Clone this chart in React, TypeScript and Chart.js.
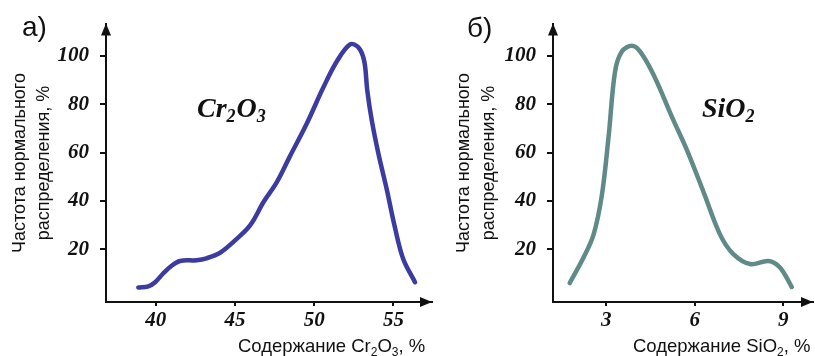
import React, { useEffect, useRef } from "react";
import { Chart, registerables } from "chart.js";

Chart.register(...registerables);

// ---- Data ----
const crX = [38.9, 39.53, 39.96, 40.48, 41.0, 41.53, 42.59, 43.2, 44.06, 44.9, 45.95, 46.8, 47.63, 48.47, 49.53, 50.57, 51.42, 52.26, 52.78, 53.15, 53.35, 53.63, 54.04, 54.57, 55.1, 55.62, 56.36];
const crY = [4.1, 4.6, 6.3, 10, 13.1, 15.1, 15.4, 16.2, 18.5, 23, 29.8, 39.5, 47.6, 58.5, 72, 86.9, 97.7, 104.8, 103.6, 98, 85.5, 73.3, 59.8, 44.9, 28.7, 15.8, 6.3];

const siX = [1.76, 2.23, 2.57, 2.85, 3.08, 3.3, 3.53, 3.87, 4.15, 4.6, 5.28, 5.73, 6.3, 6.86, 7.31, 7.88, 8.5, 8.89, 9.29];
const siY = [5.9, 16.5, 26, 42.2, 66.6, 93.6, 101.8, 104.2, 101.8, 92.3, 73.3, 61.2, 43.6, 26, 17.9, 13.8, 15.1, 12.4, 4.3];

const crTicks = [40, 45, 50, 55];
const siTicks = [3, 6, 9];
const yTicks = [20, 40, 60, 80, 100];

const yTitleLines = ["Частота нормального", "распределения, %"];

type Seg = { t: string; sub?: boolean };

const crXTitle: Seg[] = [{ t: "Содержание Cr" }, { t: "2", sub: true }, { t: "O" }, { t: "3", sub: true }, { t: ", %" }];
const siXTitle: Seg[] = [{ t: "Содержание SiO" }, { t: "2", sub: true }, { t: ", %" }];
const crFormula: Seg[] = [{ t: "Cr" }, { t: "2", sub: true }, { t: "O" }, { t: "3", sub: true }];
const siFormula: Seg[] = [{ t: "SiO" }, { t: "2", sub: true }];

// ---- Layout / style ----
const SERIF = "'Liberation Serif', 'Times New Roman', serif";
const SANS = "'Liberation Sans', Arial, sans-serif";
const H = 356;
const AXIS_TOP = 18;
const AXIS_BOTTOM = 302;
const Y_MIN = -1.91;
const Y_MAX = 113.4;

interface PanelCfg {
  xs: number[];
  ys: number[];
  ticks: number[];
  left: number;
  width: number;
  axisLeft: number;
  axisRight: number;
  xMin: number;
  xMax: number;
  color: string;
  label: string;
  labelX: number;
  labelY: number;
  titleX: [number, number];
  xTitle: Seg[];
  xTitleX: number;
  formula: Seg[];
  formulaX: number;
}

const panels: PanelCfg[] = [
  {
    xs: crX, ys: crY, ticks: crTicks,
    left: 0, width: 445, axisLeft: 106, axisRight: 432,
    xMin: 36.86, xMax: 57.43, color: "#3b3ba0",
    label: "а)", labelX: 22, labelY: 36,
    titleX: [20, 44],
    xTitle: crXTitle, xTitleX: 238,
    formula: crFormula, formulaX: 197,
  },
  {
    xs: siX, ys: siY, ticks: siTicks,
    left: 445, width: 370, axisLeft: 108, axisRight: 368,
    xMin: 1.195, xMax: 10.01, color: "#5f8a87",
    label: "б)", labelX: 22, labelY: 37,
    titleX: [19, 44],
    xTitle: siXTitle, xTitleX: 188,
    formula: siFormula, formulaX: 257,
  },
];

function drawSegs(ctx: CanvasRenderingContext2D, segs: Seg[], x: number, y: number, mainFont: string, subFont: string, subDy: number, gap: number) {
  let cx = x;
  for (const s of segs) {
    ctx.font = s.sub ? subFont : mainFont;
    ctx.fillText(s.t, cx, s.sub ? y + subDy : y);
    cx += ctx.measureText(s.t).width + (s.sub ? gap : 0);
  }
}

function Panel({ cfg }: { cfg: PanelCfg }) {
  const ref = useRef<HTMLCanvasElement | null>(null);
  useEffect(() => {
    if (!ref.current) return;
    const overlay = {
      id: "overlay",
      afterDraw(chart: any) {
        const ctx: CanvasRenderingContext2D = chart.ctx;
        const { left, right, top, bottom } = chart.chartArea;
        ctx.save();
        ctx.fillStyle = "#111";
        ctx.beginPath();
        ctx.moveTo(left, top);
        ctx.lineTo(left - 5, top + 12);
        ctx.lineTo(left + 5, top + 12);
        ctx.closePath();
        ctx.fill();
        ctx.beginPath();
        ctx.moveTo(right, bottom);
        ctx.lineTo(right - 12, bottom - 5);
        ctx.lineTo(right - 12, bottom + 5);
        ctx.closePath();
        ctx.fill();
        ctx.textBaseline = "alphabetic";
        ctx.textAlign = "left";
        ctx.font = `28px ${SANS}`;
        ctx.fillText(cfg.label, cfg.labelX, cfg.labelY);
        ctx.font = `18px ${SANS}`;
        ctx.textAlign = "center";
        ctx.textBaseline = "middle";
        yTitleLines.forEach((line, i) => {
          ctx.save();
          ctx.translate(cfg.titleX[i], 163);
          ctx.rotate(-Math.PI / 2);
          ctx.fillText(line, 0, 0);
          ctx.restore();
        });
        ctx.textAlign = "left";
        ctx.textBaseline = "alphabetic";
        drawSegs(ctx, cfg.xTitle, cfg.xTitleX, 352, `18.5px ${SANS}`, `12px ${SANS}`, 4, 0);
        drawSegs(ctx, cfg.formula, cfg.formulaX, 117, `italic bold 28px ${SERIF}`, `italic bold 18px ${SERIF}`, 5, 1);
        ctx.restore();
      },
    };
    const chart = new Chart(ref.current, {
      type: "line",
      data: {
        datasets: [
          {
            data: cfg.xs.map((x, i) => ({ x, y: cfg.ys[i] })),
            borderColor: cfg.color,
            borderWidth: 4.5,
            pointRadius: 0,
            tension: 0.35,
            borderCapStyle: "round",
            borderJoinStyle: "round",
            fill: false,
            clip: false,
          } as any,
        ],
      },
      options: {
        animation: false,
        responsive: false,
        devicePixelRatio: 1,
        events: [],
        layout: { padding: { left: 0, right: cfg.width - cfg.axisRight, top: AXIS_TOP, bottom: 0 } },
        plugins: { legend: { display: false }, tooltip: { enabled: false }, title: { display: false } },
        scales: {
          x: {
            type: "linear",
            min: cfg.xMin,
            max: cfg.xMax,
            afterBuildTicks: (s: any) => { s.ticks = cfg.ticks.map((v) => ({ value: v })); },
            afterFit: (s: any) => { s.height = H - AXIS_BOTTOM; },
            border: { display: true, color: "#111", width: 2 },
            grid: { display: true, drawOnChartArea: false, drawTicks: true, tickLength: 4, color: "#111", lineWidth: 2 },
            ticks: {
              autoSkip: false, maxRotation: 0, padding: 2, color: "#111",
              font: { family: SERIF, size: 21, style: "italic", weight: "bold" },
              callback: (v: any) => String(v),
            },
          },
          y: {
            type: "linear",
            min: Y_MIN,
            max: Y_MAX,
            afterBuildTicks: (s: any) => { s.ticks = yTicks.map((v) => ({ value: v })); },
            afterFit: (s: any) => { s.width = cfg.axisLeft; },
            border: { display: true, color: "#111", width: 2 },
            grid: { display: true, drawOnChartArea: false, drawTicks: true, tickLength: 6, color: "#111", lineWidth: 2 },
            ticks: {
              autoSkip: false, padding: 11, color: "#111",
              font: { family: SERIF, size: 21, style: "italic", weight: "bold" },
              callback: (v: any) => String(v),
            },
          },
        },
      } as any,
      plugins: [overlay],
    });
    return () => chart.destroy();
  }, [cfg]);
  return (
    <canvas
      ref={ref}
      width={cfg.width}
      height={H}
      style={{ position: "absolute", left: cfg.left, top: 0, width: cfg.width, height: H }}
    />
  );
}

export default function App() {
  return (
    <div style={{ position: "fixed", left: 0, top: 0, width: 815, height: H, background: "#fff", overflow: "hidden" }}>
      {panels.map((p, i) => (
        <Panel key={i} cfg={p} />
      ))}
    </div>
  );
}
